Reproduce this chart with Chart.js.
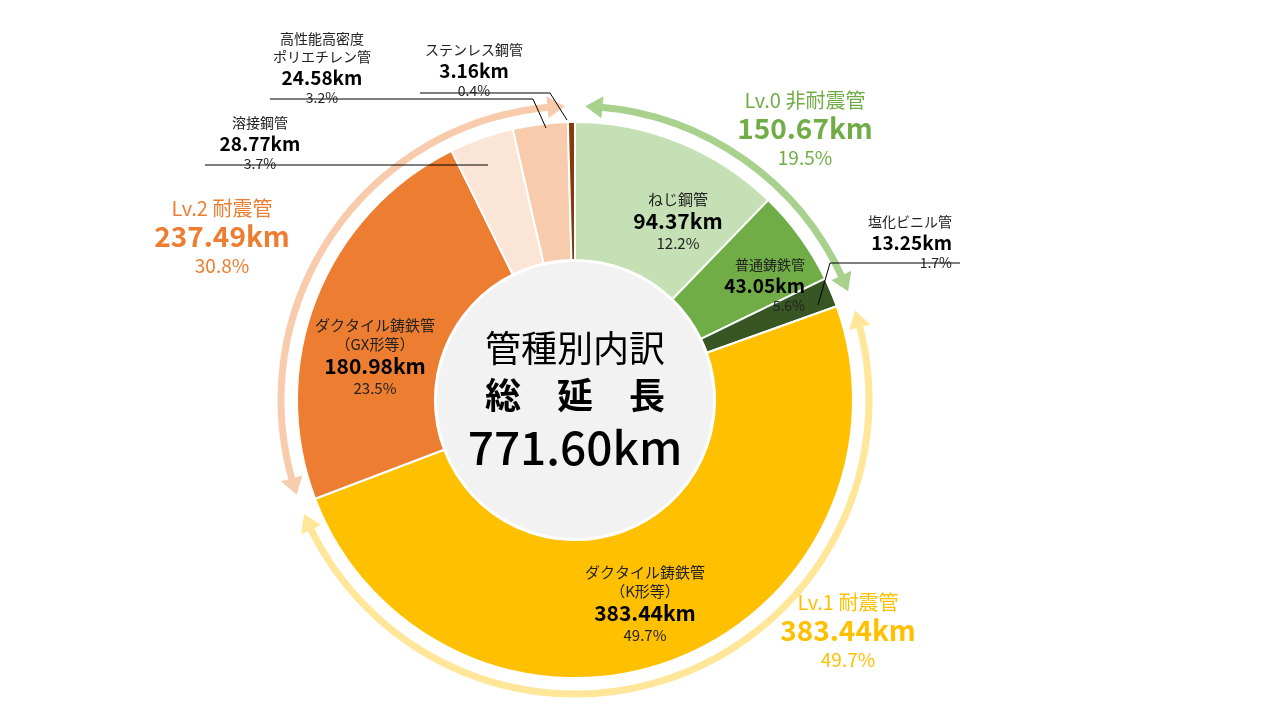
<!DOCTYPE html>
<html><head><meta charset="utf-8">
<script src="https://cdn.jsdelivr.net/npm/chart.js@4"></script>
<style>html,body{margin:0;background:#fff}#c{display:block}</style>
</head><body>
<canvas id="c" width="1280" height="720"></canvas>
<script>
// pipe categories, clockwise from top
const pipeNames = ['ねじ鋼管', '普通鋳鉄管', '塩化ビニル管', 'ダクタイル鋳鉄管（K形等）', 'ダクタイル鋳鉄管（GX形等）', '溶接鋼管', '高性能高密度ポリエチレン管', 'ステンレス鋼管'];
const pipeKm = [94.37, 43.05, 13.25, 383.44, 180.98, 28.77, 24.58, 3.16];
const pipeShare = ['12.2%', '5.6%', '1.7%', '49.7%', '23.5%', '3.7%', '3.2%', '0.4%'];
const pipeColors = ['#c5e0b4', '#70ad47', '#375623', '#ffc000', '#ed7d31', '#fbe5d6', '#f8cbad', '#843c0c'];

// seismic level groups
const groupNames = ['Lv.0 非耐震管', 'Lv.1 耐震管', 'Lv.2 耐震管'];
const groupKm = [150.67, 383.44, 237.49];
const groupShare = ['19.5%', '49.7%', '30.8%'];
const groupRing = ['#a9d18e', '#ffe699', '#f8cbad'];
const groupText = ['#70ad47', '#ffc000', '#ed7d31'];

const FONT = '"Noto Sans CJK JP", "Noto Sans", sans-serif';

// label layout: [x, y, lines...] each line [text, size, bold, align, color]
const pieLabels = [
  [672, 0, [['ねじ鋼管', 15, false], ['94.37km', 21, true], ['12.2%', 15, false]], 'center', [678, 192]],
  [760, 0, [['普通鋳鉄管', 14, false], ['43.05km', 19, true], ['5.6%', 14, false]], 'right', [805, 258]],
  [952, 0, [['塩化ビニル管', 14, false], ['13.25km', 19, true], ['1.7%', 14, false]], 'right', [952, 215]],
  [642, 0, [['ダクタイル鋳鉄管', 15, false], ['（K形等）', 15, false], ['383.44km', 21, true], ['49.7%', 15, false]], 'center', [645, 565]],
  [372, 0, [['ダクタイル鋳鉄管', 15, false], ['（GX形等）', 15, false], ['180.98km', 21, true], ['23.5%', 15, false]], 'center', [375, 318]],
  [258, 0, [['溶接鋼管', 14, false], ['28.77km', 19, true], ['3.7%', 14, false]], 'center', [260, 116]],
  [322, 0, [['高性能高密度', 14, false], ['ポリエチレン管', 14, false], ['24.58km', 19, true], ['3.2%', 14, false]], 'center', [322, 32]],
  [474, 0, [['ステンレス鋼管', 14, false], ['3.16km', 19, true], ['0.4%', 14, false]], 'center', [474, 43]]
];
const groupPos = [[805, 100, 'center'], [848, 602, 'center'], [222, 208, 'center']];
const leaders = [
  [[420, 93], [550, 93], [567, 120]],
  [[270, 99], [533, 99], [546, 128]],
  [[205, 165], [488, 165]],
  [[830, 263], [960, 263]],
  [[830, 263], [818, 305]]
];

const overlay = {
  id: 'overlay',
  beforeDatasetsDraw(chart) {
    const ctx = chart.ctx;
    const arc = chart.getDatasetMeta(2).data[0];
    ctx.save();
    ctx.beginPath();
    ctx.arc(arc.x, arc.y, arc.innerRadius - 2, 0, Math.PI * 2);
    ctx.fillStyle = '#f2f2f2';
    ctx.fill();
    ctx.restore();
  },
  afterDatasetsDraw(chart) {
    const ctx = chart.ctx;
    const ring = chart.getDatasetMeta(0).data;
    ctx.save();
    // group ring arcs with arrowheads at both ends
    ring.forEach((a, i) => {
      const r = (a.innerRadius + a.outerRadius) / 2;
      const inset = 0.035;
      const s = a.startAngle + inset, e = a.endAngle - inset;
      const head = 0.045;
      ctx.strokeStyle = groupRing[i];
      ctx.fillStyle = groupRing[i];
      ctx.lineWidth = 7;
      ctx.beginPath();
      ctx.arc(a.x, a.y, r, s + head, e - head);
      ctx.stroke();
      [[s, 1], [e, -1]].forEach(([ang, dir]) => {
        const base = ang + dir * head * 1.3;
        ctx.beginPath();
        ctx.moveTo(a.x + r * Math.cos(ang), a.y + r * Math.sin(ang));
        ctx.lineTo(a.x + (r + 11) * Math.cos(base), a.y + (r + 11) * Math.sin(base));
        ctx.lineTo(a.x + (r - 11) * Math.cos(base), a.y + (r - 11) * Math.sin(base));
        ctx.closePath();
        ctx.fill();
      });
    });
    // leader lines
    ctx.strokeStyle = '#000';
    ctx.lineWidth = 1;
    leaders.forEach(pts => {
      ctx.beginPath();
      pts.forEach((p, k) => k ? ctx.lineTo(p[0], p[1]) : ctx.moveTo(p[0], p[1]));
      ctx.stroke();
    });
    // pie labels
    ctx.textBaseline = 'top';
    pieLabels.forEach(l => {
      const [, , lines, align, pos] = l;
      let y = pos[1];
      ctx.textAlign = align;
      lines.forEach(([t, size, bold]) => {
        ctx.font = (bold ? 'bold ' : '') + size + 'px ' + FONT;
        ctx.fillStyle = bold ? '#000' : '#222';
        const x = align === 'right' ? pos[0] : pos[0];
        ctx.fillText(t, x, y);
        y += size + 4;
      });
    });
    // group labels
    groupNames.forEach((n, i) => {
      const [x, y] = groupPos[i];
      ctx.fillStyle = groupText[i];
      ctx.textAlign = 'center';
      ctx.font = '20px ' + FONT;
      ctx.fillText(n, x, y - 10);
      ctx.font = 'bold 28px ' + FONT;
      ctx.fillText(groupKm[i].toFixed(2) + 'km', x, y + 14);
      ctx.font = '19px ' + FONT;
      ctx.fillText(groupShare[i], x, y + 48);
    });
    // center title
    const c = chart.getDatasetMeta(2).data[0];
    ctx.fillStyle = '#000';
    ctx.textAlign = 'center';
    ctx.textBaseline = 'middle';
    ctx.font = '36px ' + FONT;
    ctx.fillText('管種別内訳', c.x, c.y - 52);
    ctx.font = 'bold 36px ' + FONT;
    ctx.fillText('総　延　長', c.x, c.y - 5);
    ctx.font = '500 46px ' + FONT;
    ctx.fillText('771.60km', c.x, c.y + 48);
    ctx.restore();
  }
};

new Chart(document.getElementById('c'), {
  type: 'doughnut',
  data: {
    labels: pipeNames,
    datasets: [
      { data: groupKm, backgroundColor: 'rgba(0,0,0,0)', borderWidth: 0, weight: 12 },
      { data: [1], backgroundColor: 'rgba(0,0,0,0)', borderWidth: 0, weight: 10 },
      { data: pipeKm, backgroundColor: pipeColors, borderColor: '#fff', borderWidth: 2, weight: 138 }
    ]
  },
  options: {
    responsive: false,
    animation: false,
    cutout: '46.7%',
    layout: { padding: { top: 100, bottom: 20, left: 275, right: 405 } },
    plugins: { legend: { display: false }, tooltip: { enabled: false } }
  },
  plugins: [overlay]
});
</script>
</body></html>
